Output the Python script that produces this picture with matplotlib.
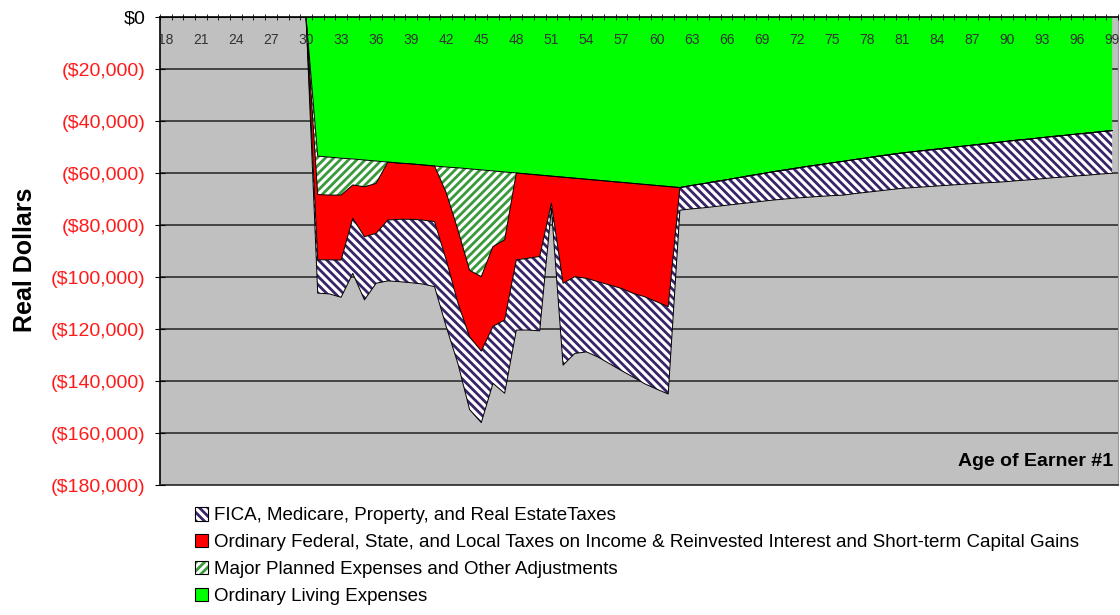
import matplotlib.pyplot as plt
import numpy as np
from matplotlib.patches import Patch

plt.rcParams['font.family'] = ['Liberation Sans', 'DejaVu Sans']
plt.rcParams['hatch.linewidth'] = 2.0

# ages of earner #1 (one value per year, 18..99), amounts in $1000 (shown negative)
ages = np.arange(18, 100)

living = [0] * 13 + [
    53.5, 53.9, 54.3, 54.6, 55.0, 55.4, 55.8, 56.2, 56.5, 56.9,   # 31-40
    57.3, 57.7, 58.0, 58.4, 58.8, 59.2, 59.6, 60.0, 60.4, 60.8,   # 41-50
    61.2, 61.6, 62.0, 62.4, 62.8, 63.2, 63.6, 64.0, 64.4, 64.8,   # 51-60
    65.2, 65.6, 64.8, 64.1, 63.3, 62.6, 61.8, 61.0, 60.3, 59.5,   # 61-70
    58.8, 58.1, 57.4, 56.8, 56.1, 55.5, 54.8, 54.2, 53.5, 52.9,   # 71-80
    52.3, 51.8, 51.3, 50.8, 50.3, 49.8, 49.3, 48.8, 48.3, 47.8,   # 81-90
    47.3, 46.9, 46.4, 45.9, 45.5, 45.0, 44.6, 44.1, 43.7]         # 91-99

planned = [0] * 13 + [
    14.8, 14.6, 14.2, 10.0, 10.3, 8.6, 0, 0, 0, 0,
    0, 9.9, 23.9, 39.0, 41.1, 29.1, 26.1, 0, 0, 0] + [0] * 49

ordinary = [0] * 13 + [
    25.1, 24.9, 25.0, 12.8, 19.2, 19.2, 22.3, 21.6, 21.3, 21.2,
    21.4, 25.8, 28.1, 25.6, 28.6, 30.7, 30.8, 33.4, 32.4, 31.3,
    10.4, 40.8, 37.9, 38.1, 39.0, 39.9, 40.8, 42.3, 43.2, 44.7,
    46.2] + [0] * 38

fica = [0] * 13 + [
    12.8, 13.1, 14.3, 21.2, 24.3, 19.2, 23.4, 24.0, 24.4, 24.6,
    25.0, 25.7, 23.3, 28.0, 27.5, 21.9, 28.2, 27.0, 27.6, 28.6,
    1.9, 31.5, 29.5, 28.3, 29.0, 30.3, 31.6, 32.2, 33.5, 33.6,
    33.6, 8.7, 9.0, 9.3, 9.6, 9.8, 10.1, 10.4, 10.6, 10.9,
    11.2, 11.5, 11.9, 12.2, 12.6, 13.0, 13.1, 13.2, 13.4, 13.5,
    13.6, 13.8, 14.0, 14.2, 14.4, 14.6, 14.8, 15.0, 15.3, 15.5,
    15.6, 15.7, 15.8, 15.9, 16.0, 16.1, 16.2, 16.3, 16.4]

names = ["Ordinary Living Expenses",
         "Major Planned Expenses and Other Adjustments",
         "Ordinary Federal, State, and Local Taxes on Income & Reinvested Interest and Short-term Capital Gains",
         "FICA, Medicare, Property, and Real EstateTaxes"]

ytick_vals = [0, -20000, -40000, -60000, -80000, -100000, -120000, -140000, -160000, -180000]
ytick_text = ["$0", "($20,000)", "($40,000)", "($60,000)", "($80,000)", "($100,000)",
              "($120,000)", "($140,000)", "($160,000)", "($180,000)"]
xtick_ages = list(range(18, 100, 3))

purple = "#3a2468"
hgreen = "#3a9a3a"
styles = [("#00ff00", None, "none"),
          ("white", "////", hgreen),
          ("#ff0000", None, "none"),
          ("white", "\\\\\\\\", purple)]

fig = plt.figure(figsize=(11.2, 6.15), dpi=100)
ax = fig.add_axes([160 / 1120, 1 - 485 / 615, 958 / 1120, 468 / 615])
ax.set_facecolor("#c0c0c0")
ax.set_axisbelow(False)

# horizontal grid lines behind the areas
for v in ytick_vals[1:]:
    ax.axhline(v, color="#3a3a3a", lw=1.3, zorder=1)

top = np.zeros(len(ages))
for vals, (face, hatch, hc) in zip([living, planned, ordinary, fica], styles):
    bottom = top - np.array(vals) * 1000
    ax.fill_between(ages, top, bottom, facecolor=face, hatch=hatch,
                    edgecolor=hc, linewidth=0, zorder=2)
    ax.plot(ages, bottom, color="black", lw=0.7, zorder=2.2)
    top = bottom

ax.set_xlim(17.5, 99.5)
ax.set_ylim(-180000, 0)

# y axis
ax.set_yticks(ytick_vals, labels=ytick_text)
for lab, v in zip(ax.get_yticklabels(), ytick_vals):
    lab.set_color("black" if v == 0 else "#ff1a1a")
ax.tick_params(axis="y", direction="inout", length=7, pad=7, labelsize=14)
ax.set_ylabel("Real Dollars", fontsize=18, fontweight="bold")
ax.yaxis.set_label_coords(-0.1285, 0.481)

# x axis on top, labels inside the plot
ax.xaxis.tick_top()
ax.set_xticks(xtick_ages)
ax.set_xticks(np.arange(17.5, 100, 1), minor=True)
ax.tick_params(axis="x", which="major", length=0, pad=-21.5, labelsize=10, labelcolor="#333333")
ax.tick_params(axis="x", which="minor", direction="inout", length=4, top=True, bottom=False)

for s in ["top", "left"]:
    ax.spines[s].set_color("black")
    ax.spines[s].set_linewidth(1.2)
ax.spines["bottom"].set_color("#3a3a3a")
ax.spines["bottom"].set_linewidth(1.3)
ax.spines["right"].set_color("#999999")
ax.spines["right"].set_linewidth(0.8)

ax.text(0.9948, 0.051, "Age of Earner #1", transform=ax.transAxes, ha="right", va="center",
        fontsize=14, fontweight="bold", zorder=5)

# legend (reverse order like the original)
handles = []
for face, hatch, hc in styles[::-1]:
    handles.append((Patch(facecolor=face, hatch=hatch, edgecolor=hc, lw=0),
                    Patch(facecolor="none", edgecolor="black", lw=0.8)))
fig.legend(handles, names[::-1], loc="upper left", bbox_to_anchor=(0.174, 0.175),
           frameon=False, borderpad=0, borderaxespad=0, handlelength=0.7, handleheight=0.7,
           handletextpad=0.3, labelspacing=0.52, fontsize=13.5)

fig.savefig("out.png", dpi=100)
